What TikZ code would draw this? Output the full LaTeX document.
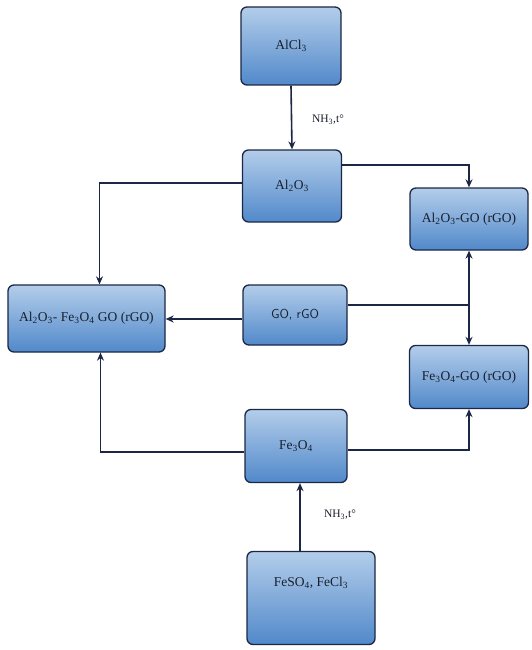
\documentclass[tikz,border=0pt]{standalone}
\usepackage{fontspec}
\setmainfont{Liberation Serif}
\usetikzlibrary{arrows.meta,calc}
\definecolor{navy}{HTML}{1B2745}
\definecolor{boxtop}{HTML}{B3CDEA}
\definecolor{boxbot}{HTML}{5189CA}
\definecolor{txt}{HTML}{1A1F2C}
\newcommand{\sbs}[1]{\textsubscript{#1}}
\tikzset{
  procbox/.style={draw=navy, line width=1.3pt, rounded corners=6pt,
    top color=boxtop, bottom color=boxbot, text=txt,
    font=\fontsize{13.5}{15}\selectfont, inner sep=2pt},
  conn/.style={draw=navy, line width=1.6pt},
  arr/.style={conn, -{Stealth[length=8pt,width=7pt]}},
  cond/.style={text=txt, font=\fontsize{11.5}{13}\selectfont, inner sep=0pt}
}
\begin{document}
\begin{tikzpicture}[x=1pt,y=-1pt]
\useasboundingbox (0,0) rectangle (532,650);
\node[procbox, minimum width=100pt, minimum height=78pt] (alcl) at (291,46) {AlCl\sbs{3}};
\node[procbox, minimum width=99pt, minimum height=72pt] (alo) at (292,186) {Al\sbs{2}O\sbs{3}};
\node[procbox, minimum width=118pt, minimum height=62pt] (algo) at (469,219) {Al\sbs{2}O\sbs{3}-GO (rGO)};
\node[procbox, minimum width=157pt, minimum height=67pt] (big) at (86.5,318.5) {Al\sbs{2}O\sbs{3}- Fe\sbs{3}O\sbs{4} GO (rGO)};
\node[procbox, minimum width=104pt, minimum height=60pt, font=\sffamily\fontsize{13}{15}\selectfont] (gorgo) at (295,315) {GO, rGO};
\node[procbox, minimum width=119pt, minimum height=63pt] (fego) at (469,377) {Fe\sbs{3}O\sbs{4}-GO (rGO)};
\node[procbox, minimum width=102pt, minimum height=73pt] (feo) at (296,446) {Fe\sbs{3}O\sbs{4}};
\node[procbox, minimum width=128pt, minimum height=93pt, text depth=33pt] (feso) at (311,598) {FeSO\sbs{4}, FeCl\sbs{3}};

\node[cond] (nh1) at (328,120) {NH\sbs{3},t\textdegree};
\node[cond] (nh2) at (340,515) {NH\sbs{3},t\textdegree};

% AlCl3 -> Al2O3
\draw[arr] (alcl.south) -- (alo.north);
% Al2O3 -> Al2O3-GO
\draw[arr] ([yshift=21pt]alo.east) -| (algo.north);
% Al2O3 -> big box
\draw[arr] ([yshift=3pt]alo.west) -| ([xshift=13pt]big.north);
% GO,rGO -> big box
\draw[arr] ([yshift=-4pt]gorgo.west) -- ([yshift=-4pt]gorgo.west -| big.east);
% GO,rGO -> junction
\coordinate (j) at ([yshift=10pt]gorgo.east -| algo.south);
\draw[conn] ([yshift=10pt]gorgo.east) -- (j);
\draw[arr] (j) -- (algo.south);
\draw[arr] (j) -- (fego.north);
% Fe3O4 -> big box
\draw[arr] ([yshift=-6pt]feo.west) -| ([xshift=14pt]big.south);
% Fe3O4 -> Fe3O4-GO
\draw[arr] ([yshift=-4pt]feo.east) -| (fego.south);
% FeSO4 -> Fe3O4
\draw[arr] ([xshift=-11pt]feso.north) -- ([xshift=-11pt]feso.north |- feo.south);
\end{tikzpicture}
\end{document}
